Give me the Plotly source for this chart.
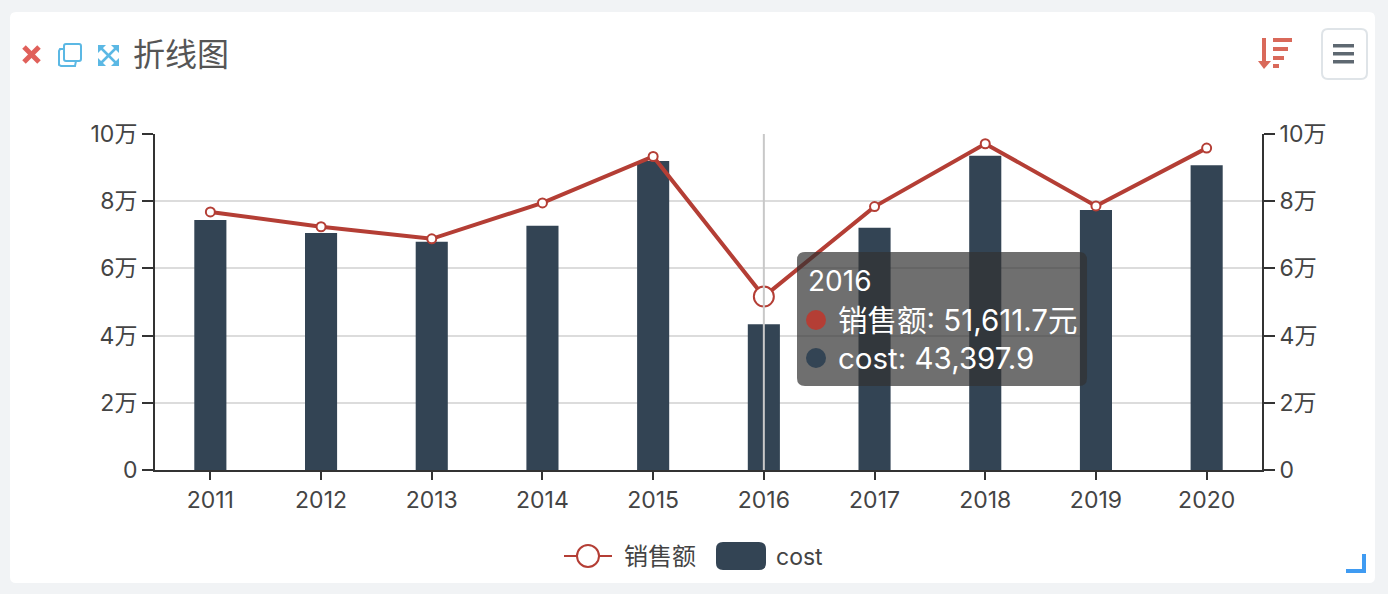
import plotly.graph_objects as go

years = ["2011", "2012", "2013", "2014", "2015", "2016", "2017", "2018", "2019", "2020"]
sales = [76800, 72400, 68800, 79500, 93300, 51611.7, 78400, 97100, 78600, 95800]
cost = [74400, 70500, 67900, 72700, 92000, 43397.9, 72100, 93500, 77400, 90700]
tick_vals = [0, 20000, 40000, 60000, 80000, 100000]
tick_text = ["0", "2万", "4万", "6万", "8万", "10万"]
title = "折线图"
sales_name = "销售额"
cost_name = "cost"
hover_year = "2016"
hover_sales = "51,611.7元"
hover_cost = "43,397.9"

W, H = 1388, 594
L, R, T, B = 155, 1262, 134, 470
FONT = "Inter, Noto Sans CJK SC, sans-serif"
RED = "#b43e35"
NAVY = "#334454"
TEXT = "#444444"


def px(x):
    return (x - L) / (R - L)


def py(y):
    return (B - y) / (B - T)


shapes = []
annotations = []


def path(d_pts, close=False, **kw):
    d = "M" + " L".join(f"{px(x):.5f},{py(y):.5f}" for x, y in d_pts)
    if close:
        d += " Z"
    shapes.append(dict(type="path", path=d, xref="paper", yref="paper", **kw))


def rrect(x0, y0, x1, y1, r, **kw):
    X = lambda v: f"{px(v):.5f}"
    Y = lambda v: f"{py(v):.5f}"
    d = (f"M{X(x0+r)},{Y(y0)} L{X(x1-r)},{Y(y0)} Q{X(x1)},{Y(y0)} {X(x1)},{Y(y0+r)} "
         f"L{X(x1)},{Y(y1-r)} Q{X(x1)},{Y(y1)} {X(x1-r)},{Y(y1)} "
         f"L{X(x0+r)},{Y(y1)} Q{X(x0)},{Y(y1)} {X(x0)},{Y(y1-r)} "
         f"L{X(x0)},{Y(y0+r)} Q{X(x0)},{Y(y0)} {X(x0+r)},{Y(y0)} Z")
    shapes.append(dict(type="path", path=d, xref="paper", yref="paper", **kw))


def circle(cx, cy, r, **kw):
    shapes.append(dict(type="circle", xref="paper", yref="paper",
                       x0=px(cx - r), x1=px(cx + r), y0=py(cy + r), y1=py(cy - r), **kw))


def text(x, y, s, size, color=TEXT, anchor="left"):
    annotations.append(dict(x=px(x), y=py(y), xref="paper", yref="paper", text=s, showarrow=False,
                            xanchor=anchor, yanchor="middle", xshift=-1, font=dict(size=size, color=color, family=FONT)))


# white card (below everything)
rrect(10, 12, 1375, 583, 6, fillcolor="white", line_width=0, layer="below")

# close icon
for a, b in [((24, 47), (39, 62)), ((39, 47), (24, 62))]:
    path([a, b], line=dict(color="#e0605a", width=5), layer="above")
# copy icon
BLUE = "#5bb8e4"
rrect(64, 44, 81, 61, 2, line=dict(color=BLUE, width=2), fillcolor="white", layer="above")
path([(64, 49), (60, 49), (59, 51), (59, 65), (61, 66), (75, 66), (76, 61)], line=dict(color=BLUE, width=2), layer="above")
# fullscreen icon
for a, b in [((100, 47), (117, 64)), ((117, 47), (100, 64))]:
    path([a, b], line=dict(color=BLUE, width=2.5), layer="above")
for pts in [[(98, 45), (106, 45), (98, 53)], [(119, 45), (111, 45), (119, 53)],
            [(98, 66), (106, 66), (98, 58)], [(119, 66), (111, 66), (119, 58)]]:
    path(pts, close=True, fillcolor=BLUE, line_width=0, layer="above")
text(132, 55, title, 32, "#555555")

# sort icon
SORT = "#d9695a"
path([(1264, 38), (1264, 62)], line=dict(color=SORT, width=4), layer="above")
path([(1258, 61), (1271, 61), (1264, 69)], close=True, fillcolor=SORT, line_width=0, layer="above")
for x1, y0 in [(1292, 38), (1288, 47), (1284, 56), (1279, 64)]:
    shapes.append(dict(type="rect", xref="paper", yref="paper", x0=px(1273), x1=px(x1), y0=py(y0 + 4), y1=py(y0),
                       fillcolor=SORT, line_width=0, layer="above"))
# menu button
rrect(1322, 29, 1367, 79, 6, fillcolor="white", line=dict(color="#dfe4e8", width=2), layer="above")
for y in [44, 52, 60]:
    shapes.append(dict(type="rect", xref="paper", yref="paper", x0=px(1333), x1=px(1354), y0=py(y + 3.5), y1=py(y),
                       fillcolor="#5e6871", line_width=0, layer="above"))
# resize corner
path([(1346, 571), (1364, 571), (1364, 554)], line=dict(color="#3f9bf2", width=4), layer="above")

# custom legend
path([(564, 556), (612, 556)], line=dict(color=RED, width=2), layer="above")
circle(588, 556, 11, fillcolor="white", line=dict(color=RED, width=2), layer="above")
text(623, 556, sales_name, 24)
rrect(716, 542, 766, 570, 7, fillcolor=NAVY, line_width=0, layer="above")
text(775, 557, cost_name, 23)

# crosshair at the hovered category
hover_index = years.index(hover_year)
shapes.append(dict(type="line", xref="x", yref="paper", x0=hover_index, x1=hover_index, y0=0, y1=1,
                   line=dict(color="#c8c8c8", width=2), layer="above"))

# tooltip
rrect(797, 252, 1087, 386, 8, fillcolor="rgba(50,50,50,0.7)", line_width=0, layer="above")
text(807, 281, hover_year, 28, "white")
circle(816, 320, 10, fillcolor=RED, line_width=0, layer="above")
text(837, 320, f"{sales_name}: {hover_sales}", 29.5, "white")
circle(816, 358, 10, fillcolor=NAVY, line_width=0, layer="above")
text(837, 358, f"{cost_name}: {hover_cost}", 29.5, "white")

marker_sizes = [9 if y != hover_year else 20 for y in years]

fig = go.Figure()
fig.add_bar(x=years, y=cost, name=cost_name, marker=dict(color=NAVY, line_width=0), width=0.29, yaxis="y", showlegend=False)
fig.add_scatter(x=years, y=sales, name=sales_name, mode="lines+markers", yaxis="y2", showlegend=False,
                line=dict(color=RED, width=4),
                marker=dict(color="white", size=marker_sizes, opacity=1, line=dict(color=RED, width=2)))

axis_font = dict(size=23, color=TEXT, family=FONT)
common_y = dict(range=[0, 100000], tickmode="array", tickvals=tick_vals, ticktext=tick_text, ticks="outside",
                ticklen=11, tickwidth=2, tickcolor="#333333", showline=True, linecolor="#333333", linewidth=2,
                tickfont=axis_font, zeroline=False)
fig.update_layout(
    width=W, height=H,
    margin=dict(l=L, r=W - R, t=T, b=H - B, pad=0),
    paper_bgcolor="#f1f3f5", plot_bgcolor="rgba(0,0,0,0)",
    showlegend=False, hovermode=False,
    xaxis=dict(type="category", range=[-0.5, len(years) - 0.5], ticks="outside", ticklen=8, tickwidth=2, tickcolor="#333333",
               showline=True, linecolor="#333333", linewidth=2, tickfont=axis_font,
               showgrid=False, zeroline=False),
    yaxis=dict(**common_y, showgrid=True, gridcolor="#dcdcdc", gridwidth=2),
    yaxis2=dict(**common_y, overlaying="y", side="right", showgrid=False),
    shapes=shapes, annotations=annotations,
)
fig.write_html("out.html", config={"displayModeBar": False},
               post_script="document.body.style.margin='0';document.documentElement.style.overflow='hidden';")
